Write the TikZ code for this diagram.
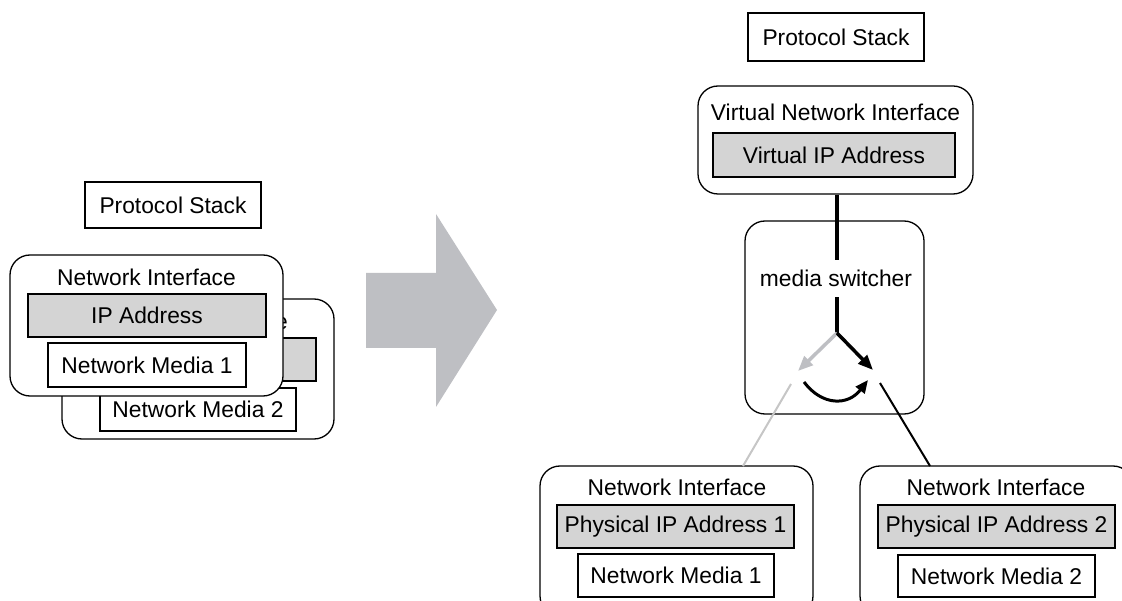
\documentclass[tikz,border=0pt]{standalone}
\usepackage{fontspec}
\setmainfont{Liberation Sans}
\usetikzlibrary{arrows.meta}
\definecolor{boxgray}{RGB}{212,212,212}
\definecolor{arrowgray}{RGB}{190,191,195}
\definecolor{linkgray}{RGB}{198,198,198}

\begin{document}
\begin{tikzpicture}[x=1pt,y=-1pt,
  every node/.style={font=\fontsize{22.8}{26}\selectfont, inner sep=0pt},
  plainbox/.style={draw, line width=1.2pt, fill=white},
  addrbox/.style={draw, line width=1.2pt, fill=boxgray},
  ifacebox/.style={draw, line width=1.3pt, fill=white, rounded corners=20pt},
  tip/.style={-{Triangle[length=15pt,width=12pt]}},
]
\useasboundingbox (0,0) rectangle (1122,601);
\clip (0,0) rectangle (1122,601);

% ---------- left: one interface per medium ----------
\node[plainbox, minimum width=176pt, minimum height=46pt] (ps1) at (173,205) {Protocol Stack};

% second interface, behind
\node[ifacebox, minimum width=272pt, minimum height=140pt] (nib) at (198,369) {};
\node (nibt) at (198.5,321) {Network Interface};
\node[addrbox, minimum width=236pt, minimum height=43pt] (ipb) at (198,359.5) {};
\node[plainbox, minimum width=196pt, minimum height=43pt] (nmb) at (198,409.5) {Network Media 2};

% first interface, in front
\node[ifacebox, minimum width=273pt, minimum height=141pt] (nif) at (146.5,325.5) {};
\node (nift) at (146.5,277) {Network Interface};
\node[addrbox, minimum width=238pt, minimum height=43pt] (ipf) at (147,315.5) {IP Address};
\node[plainbox, minimum width=198pt, minimum height=44pt] (nmf) at (147,365) {Network Media 1};

% transition arrow
\fill[arrowgray] (366,273) -- (436,273) -- (436,214) -- (497,310)
  -- (436,407) -- (436,348) -- (366,348) -- cycle;

% ---------- right: virtual interface over two media ----------
\node[plainbox, minimum width=176pt, minimum height=48pt] (ps2) at (836,37) {Protocol Stack};

\node[ifacebox, minimum width=275pt, minimum height=108pt] (vni) at (835.5,140) {};
\node (vnit) at (835.5,112) {Virtual Network Interface};
\node[addrbox, minimum width=242pt, minimum height=44pt] (vip) at (834,155) {Virtual IP Address};

\node[ifacebox, minimum width=179pt, minimum height=193pt] (ms) at (834.5,317.5) {};
\node[minimum height=37pt] (mst) at (836,278.5) {media switcher};

\coordinate (J) at (837,333);
\coordinate (gA) at (798,371);
\coordinate (bA) at (873,370);
\coordinate (cS) at (804,382);
\coordinate (cE) at (868,380);
\coordinate (gS) at (791,384);
\coordinate (bS) at (880,383);

\draw[line width=4.5pt] (J |- vni.south) -- (J |- mst.north);
\draw[line width=4.5pt] (J |- mst.south) -- (J);
\draw[line width=3.5pt, arrowgray, tip] (J) -- (gA);
\draw[line width=3.5pt, tip] (J) -- (bA);
\draw[line width=3pt, -{Triangle[length=13pt,width=11pt]}]
  (cS) .. controls (822,406) and (848,406) .. (cE);

% bottom interfaces
\node[ifacebox, minimum width=273pt, minimum height=150pt] (ni1) at (676.5,541) {};
\node (ni1t) at (677,487) {Network Interface};
\node[addrbox, minimum width=237pt, minimum height=43pt] (pip1) at (675.5,526.5) {Physical IP Address 1};
\node[plainbox, minimum width=196pt, minimum height=43pt] (nm1) at (676,575.5) {Network Media 1};

\node[ifacebox, minimum width=273pt, minimum height=150pt] (ni2) at (996.5,541) {};
\node (ni2t) at (996,487) {Network Interface};
\node[addrbox, minimum width=237pt, minimum height=43pt] (pip2) at (996.5,526.5) {Physical IP Address 2};
\node[plainbox, minimum width=197pt, minimum height=42pt] (nm2) at (996.5,576) {Network Media 2};

\coordinate (gE) at (743,466);
\coordinate (bE) at (930,466);
\draw[line width=2pt, linkgray] (gS) -- (gE);
\draw[line width=2pt] (bS) -- (bE);
\end{tikzpicture}
\end{document}
